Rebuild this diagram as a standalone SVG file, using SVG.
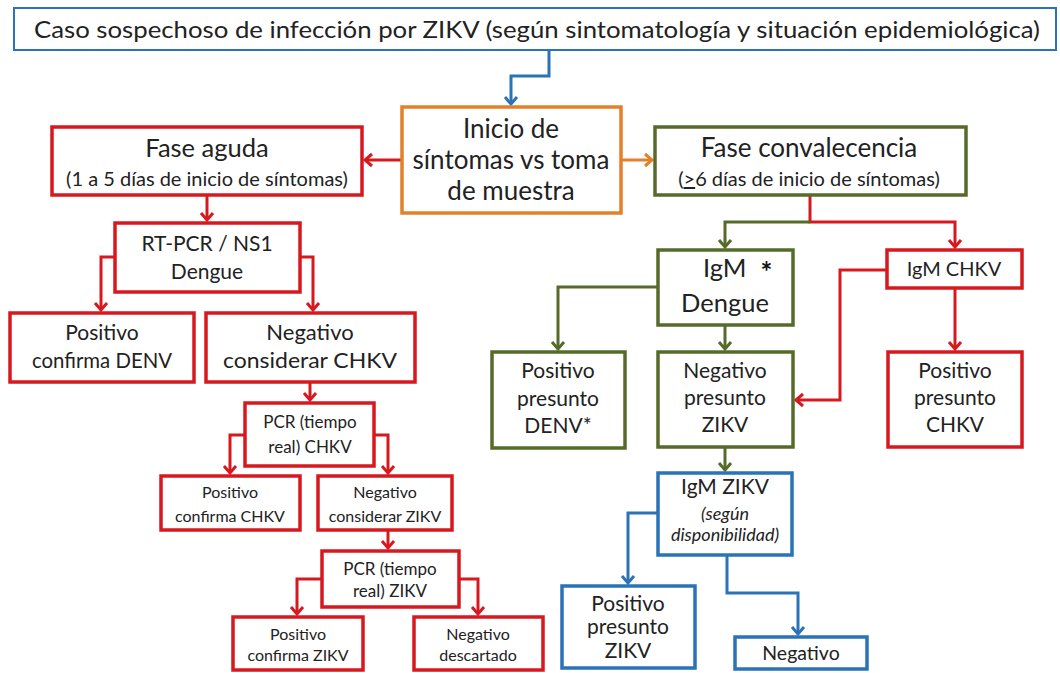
<svg xmlns="http://www.w3.org/2000/svg" width="1060" height="673" viewBox="0 0 1060 673">
<style>
text{font-family:Lato,"Liberation Sans",sans-serif;fill:#222;text-anchor:middle}
.box{fill:#fff;stroke-width:3.5}
.r{stroke:#d7191f}.g{stroke:#566b2a}.o{stroke:#e3802a}.b{stroke:#2a73b8}
.c{fill:none;stroke-width:3}
.f26{font-size:26px}.f25{font-size:25.5px}.f21{font-size:21px}.f20{font-size:20px}.f17{font-size:17px}.f16{font-size:16px}
.it{font-style:italic;font-size:18px}
</style>
<defs>
<marker id="aR" markerUnits="userSpaceOnUse" markerWidth="16" markerHeight="16" refX="8" refY="8" orient="auto"><path d="M1,2 L8,8 L1,14" fill="none" stroke="#d7191f" stroke-width="3"/></marker>
<marker id="aG" markerUnits="userSpaceOnUse" markerWidth="16" markerHeight="16" refX="8" refY="8" orient="auto"><path d="M1,2 L8,8 L1,14" fill="none" stroke="#566b2a" stroke-width="3"/></marker>
<marker id="aO" markerUnits="userSpaceOnUse" markerWidth="16" markerHeight="16" refX="8" refY="8" orient="auto"><path d="M1,2 L8,8 L1,14" fill="none" stroke="#e3802a" stroke-width="3"/></marker>
<marker id="aB" markerUnits="userSpaceOnUse" markerWidth="16" markerHeight="16" refX="8" refY="8" orient="auto"><path d="M1,2 L8,8 L1,14" fill="none" stroke="#2a73b8" stroke-width="3"/></marker>
</defs>
<rect width="1060" height="673" fill="#fff"/>
<g id="connectors">
<path class="c b" d="M549,50 V76 H511 V104" marker-end="url(#aB)"/>
<path class="c r" d="M402,160 H365" marker-end="url(#aR)"/>
<path class="c o" d="M621,160 H652" marker-end="url(#aO)"/>
<path class="c r" d="M207,195 V220" marker-end="url(#aR)"/>
<path class="c r" d="M115,257 H101 V310" marker-end="url(#aR)"/>
<path class="c r" d="M300,257 H313 V310" marker-end="url(#aR)"/>
<path class="c r" d="M310,382 V400" marker-end="url(#aR)"/>
<path class="c r" d="M245,435 H230 V473" marker-end="url(#aR)"/>
<path class="c r" d="M374,435 H388 V473" marker-end="url(#aR)"/>
<path class="c r" d="M388,530 V548" marker-end="url(#aR)"/>
<path class="c r" d="M322,579 H297 V614" marker-end="url(#aR)"/>
<path class="c r" d="M459,579 H478 V614" marker-end="url(#aR)"/>
<path class="c r" d="M810,195 V222 H955 V247" marker-end="url(#aR)"/>
<path class="c g" d="M810,222 H725 V247" marker-end="url(#aG)"/>
<path class="c g" d="M658,287 H558 V349" marker-end="url(#aG)"/>
<path class="c g" d="M725,325 V349" marker-end="url(#aG)"/>
<path class="c r" d="M887,270 H840 V400 H796" marker-end="url(#aR)"/>
<path class="c r" d="M955,288 V349" marker-end="url(#aR)"/>
<path class="c g" d="M725,447 V470" marker-end="url(#aG)"/>
<path class="c b" d="M658,513 H628 V583" marker-end="url(#aB)"/>
<path class="c b" d="M727,555 V593 H798 V634" marker-end="url(#aB)"/>
</g>
<g id="n-title"><rect class="box b" style="stroke-width:2" x="14" y="8" width="1042" height="42"/>
<text x="537" y="38" style="font-size:24px" textLength="1006" lengthAdjust="spacingAndGlyphs">Caso sospechoso de infección por ZIKV (según sintomatología y situación epidemiológica)</text></g>
<g id="n-inicio"><rect class="box o" x="402" y="107" width="219" height="106"/>
<text class="f26" x="511" y="138">Inicio de</text><text class="f26" x="511" y="169">síntomas vs toma</text><text class="f26" x="511" y="200">de muestra</text></g>
<g id="n-aguda"><rect class="box r" x="52" y="127" width="310" height="68"/>
<text class="f25" x="207" y="157">Fase aguda</text><text class="f20" x="207" y="186">(1 a 5 días de inicio de síntomas)</text></g>
<g id="n-conv"><rect class="box g" x="655" y="127" width="311" height="68"/>
<text class="f26" x="809" y="157">Fase convalecencia</text><text class="f20" x="809" y="186">(<tspan text-decoration="underline">&gt;</tspan>6 días de inicio de síntomas)</text></g>
<g id="n-rtpcr"><rect class="box r" x="115" y="223" width="185" height="69"/>
<text class="f21" x="207" y="251">RT-PCR / NS1</text><text class="f21" x="207" y="279">Dengue</text></g>
<g id="n-posdenv"><rect class="box r" x="10" y="313" width="184" height="69"/>
<text class="f21" x="102" y="340">Positivo</text><text class="f21" x="102" y="368" textLength="140" lengthAdjust="spacingAndGlyphs">confirma DENV</text></g>
<g id="n-negchkv"><rect class="box r" x="206" y="313" width="209" height="69"/>
<text class="f21" x="310" y="340" style="font-size:22px">Negativo</text><text class="f21" x="310" y="368" style="font-size:22px" textLength="174" lengthAdjust="spacingAndGlyphs">considerar CHKV</text></g>
<g id="n-pcrchkv"><rect class="box r" x="245" y="403" width="129" height="63"/>
<text class="f17" x="310" y="428">PCR (tiempo</text><text class="f17" x="310" y="453">real) CHKV</text></g>
<g id="n-poschkv"><rect class="box r" x="161" y="476" width="139" height="54"/>
<text class="f16" x="230" y="498">Positivo</text><text class="f16" x="230" y="522">confirma CHKV</text></g>
<g id="n-negzikv"><rect class="box r" x="318" y="476" width="134" height="54"/>
<text class="f16" x="385" y="498">Negativo</text><text class="f16" x="385" y="522">considerar ZIKV</text></g>
<g id="n-pcrzikv"><rect class="box r" x="322" y="551" width="137" height="56"/>
<text class="f17" x="390" y="575">PCR (tiempo</text><text class="f17" x="390" y="597">real) ZIKV</text></g>
<g id="n-poszikv"><rect class="box r" x="233" y="617" width="130" height="53"/>
<text class="f16" x="298" y="640">Positivo</text><text class="f16" x="298" y="661">confirma ZIKV</text></g>
<g id="n-negdesc"><rect class="box r" x="414" y="617" width="129" height="53"/>
<text class="f16" x="478" y="640">Negativo</text><text class="f16" x="478" y="661">descartado</text></g>
<g id="n-igmdengue"><rect class="box g" x="658" y="250" width="135" height="75"/>
<text class="f25" x="703" y="277" style="text-anchor:start">IgM<tspan dx="14" dy="5" style="font-size:28px;font-weight:bold;fill:#111">*</tspan></text><text class="f25" x="725" y="312">Dengue</text></g>
<g id="n-igmchkv"><rect class="box r" x="887" y="250" width="135" height="38"/>
<text class="f20" x="954" y="276">IgM CHKV</text></g>
<g id="n-posdenv2"><rect class="box g" x="492" y="352" width="133" height="96"/>
<text class="f21" x="558" y="378">Positivo</text><text class="f21" x="558" y="406">presunto</text><text class="f21" x="558" y="433">DENV*</text></g>
<g id="n-negzikv2"><rect class="box g" x="658" y="352" width="135" height="95"/>
<text class="f21" x="725" y="378">Negativo</text><text class="f21" x="725" y="405">presunto</text><text class="f21" x="725" y="432">ZIKV</text></g>
<g id="n-poschkv2"><rect class="box r" x="888" y="352" width="134" height="95"/>
<text class="f21" x="955" y="378">Positivo</text><text class="f21" x="955" y="405">presunto</text><text class="f21" x="955" y="432">CHKV</text></g>
<g id="n-igmzikv"><rect class="box b" x="658" y="473" width="134" height="82"/>
<text class="f21" x="725" y="494">IgM ZIKV</text><text class="it" x="725" y="520">(según</text><text class="it" x="725" y="541">disponibilidad)</text></g>
<g id="n-poszikv2"><rect class="box b" x="562" y="586" width="133" height="82"/>
<text class="f21" x="628" y="611">Positivo</text><text class="f21" x="628" y="634">presunto</text><text class="f21" x="628" y="658">ZIKV</text></g>
<g id="n-neg"><rect class="box b" x="735" y="637" width="132" height="32"/>
<text x="801" y="660" style="font-size:19.5px">Negativo</text></g>
</svg>
